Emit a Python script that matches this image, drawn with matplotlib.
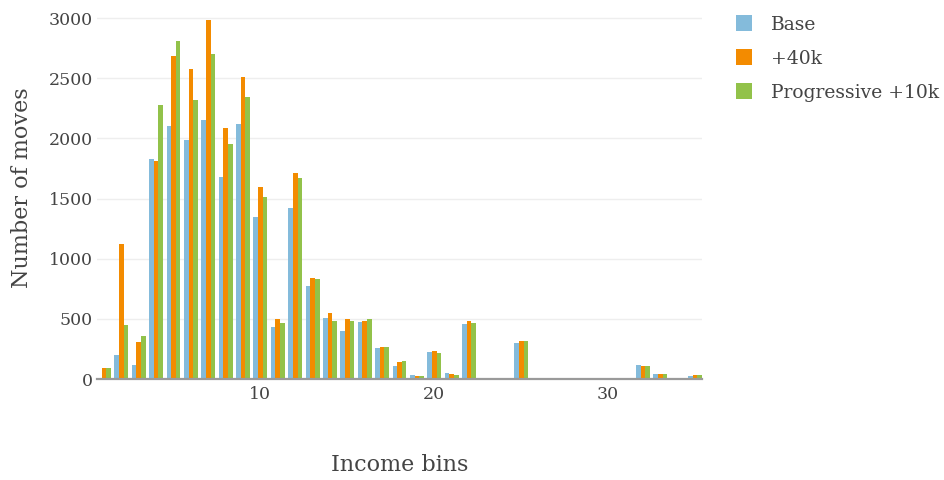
import numpy as np
import matplotlib
matplotlib.use("Agg")
import matplotlib.pyplot as plt
from matplotlib.patches import Rectangle

# Income bins 1..35 and number of moves per scenario
bins = list(range(1, 36))
base = [0, 198, 118, 1829, 2102, 1983, 2152, 1680, 2116, 1344, 432, 1423, 771, 508,
        403, 470, 257, 110, 33, 221, 47, 459, 0, 0, 303, 0, 0, 0, 0, 0, 0, 119, 42, 0, 28]
plus_40k = [88, 1118, 309, 1810, 2683, 2573, 2982, 2085, 2512, 1595, 501, 1713, 837, 547,
            500, 483, 265, 138, 25, 232, 41, 486, 0, 0, 319, 0, 0, 0, 0, 0, 0, 111, 39, 0, 31]
progressive_10k = [88, 452, 355, 2278, 2810, 2322, 2705, 1953, 2342, 1512, 463, 1674, 829, 478,
                   481, 497, 262, 146, 22, 218, 33, 464, 0, 0, 319, 0, 0, 0, 0, 0, 0, 111, 39, 0, 31]

series_names = ["Base", "+40k", "Progressive +10k"]
series_values = [base, plus_40k, progressive_10k]
colors = ["#84bbdb", "#f38b00", "#92c24a"]

FONT = "DejaVu Serif"
TEXT = "#444444"

fig = plt.figure(figsize=(9.45, 4.8), dpi=100)
W, H = 945, 480
left, right, bottom, top = 97, 702, 379, 0
ax = fig.add_axes([left / W, 1 - bottom / H, (right - left) / W, (bottom - top) / H])

x = np.array(bins, dtype=float)
group = 0.8
bw = group / len(series_values)
for i, (vals, c) in enumerate(zip(series_values, colors)):
    ax.bar(x + (i - 1) * bw, vals, width=bw, color=c, linewidth=0, zorder=2)

ax.set_xlim(0.6, 35.4)
ax.set_ylim(0, 3150)
ax.set_xticks([10, 20, 30])
ax.set_yticks(range(0, 3001, 500))

for s in ["top", "right", "left"]:
    ax.spines[s].set_visible(False)
ax.spines["bottom"].set_color("#9a9a9a")
ax.spines["bottom"].set_linewidth(1.6)
ax.spines["bottom"].set_zorder(3)
ax.grid(axis="y", color="#eeeeee", linewidth=1, zorder=0)
ax.tick_params(axis="both", length=0, labelsize=12.5, labelcolor=TEXT)
ax.tick_params(axis="x", pad=5)
ax.tick_params(axis="y", pad=3)
for lab in ax.get_xticklabels() + ax.get_yticklabels():
    lab.set_fontfamily(FONT)

fig.text(400 / W, 1 - 465 / H, "Income bins", ha="center", va="center",
         fontsize=16, color=TEXT, family=FONT)
fig.text(22 / W, 1 - 188 / H, "Number of moves", ha="center", va="center",
         rotation=90, fontsize=16, color=TEXT, family=FONT)

# Legend drawn as swatches plus labels in figure pixel positions
sw = 16
for k, (name, c) in enumerate(zip(series_names, colors)):
    yc = 23 + 34 * k
    fig.patches.append(Rectangle((736 / W, 1 - (yc + sw / 2) / H), sw / W, sw / H,
                                 transform=fig.transFigure, facecolor=c,
                                 edgecolor="none"))
    fig.text(771 / W, 1 - yc / H, name, ha="left", va="center_baseline",
             fontsize=13.5, color=TEXT, family=FONT)

fig.savefig("out.png", dpi=100)
